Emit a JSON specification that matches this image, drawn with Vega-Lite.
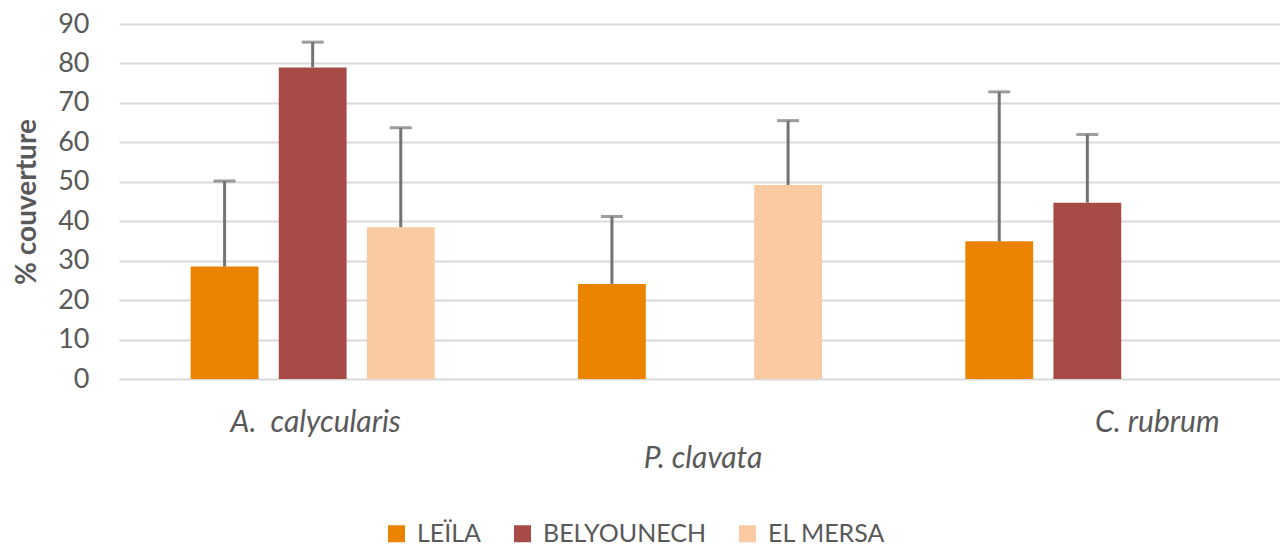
{
  "$schema": "https://vega.github.io/schema/vega-lite/v6.json",
  "width": 1162,
  "height": 355,
  "padding": {"left": 13, "top": 10, "right": 0, "bottom": 0},
  "config": {
    "font": "Lato",
    "view": {"stroke": null},
    "axisY": {
      "titleFontSize": 28,
      "titleFontWeight": "bold",
      "titleColor": "#595959",
      "titlePadding": 16,
      "domain": false,
      "ticks": false,
      "labelFontSize": 27,
      "labelColor": "#595959",
      "labelPadding": 30,
      "labelOverlap": false,
      "gridColor": "#D9D9D9",
      "gridWidth": 2
    }
  },
  "data": {
    "values": [
      {"species": "A. calycularis", "site": "LEÏLA", "value": 28.5, "upper": 50.2},
      {"species": "A. calycularis", "site": "BELYOUNECH", "value": 79.0, "upper": 85.4},
      {"species": "A. calycularis", "site": "EL MERSA", "value": 38.5, "upper": 63.7},
      {"species": "P. clavata", "site": "LEÏLA", "value": 24.1, "upper": 41.2},
      {"species": "P. clavata", "site": "EL MERSA", "value": 49.2, "upper": 65.5},
      {"species": "C. rubrum", "site": "LEÏLA", "value": 34.9, "upper": 72.8},
      {"species": "C. rubrum", "site": "BELYOUNECH", "value": 44.7, "upper": 62.0}
    ]
  },
  "encoding": {
    "x": {
      "field": "species",
      "type": "nominal",
      "sort": ["A. calycularis", "P. clavata", "C. rubrum"],
      "scale": {"paddingInner": 0.37, "paddingOuter": 0.185},
      "axis": {
        "title": null,
        "domain": false,
        "ticks": false,
        "labelAngle": 0,
        "labelFontSize": 30,
        "labelFontStyle": "italic",
        "labelColor": "#595959",
        "labelLimit": 400,
        "labelExpr": "datum.value == 'A. calycularis' ? 'A.\u00a0 calycularis' : datum.value",
        "labelPadding": {"condition": {"test": "datum.value == 'P. clavata'", "value": 64}, "value": 28},
        "labelOffset": {"condition": {"test": "datum.value == 'C. rubrum'", "value": 70}, "value": 3}
      }
    },
    "xOffset": {
      "field": "site",
      "type": "nominal",
      "sort": ["LEÏLA", "BELYOUNECH", "EL MERSA"],
      "scale": {"paddingInner": 0.23, "paddingOuter": 0}
    }
  },
  "layer": [
    {
      "mark": {"type": "bar"},
      "encoding": {
        "y": {
          "field": "value",
          "type": "quantitative",
          "scale": {"domain": [0, 90], "nice": false},
          "axis": {"values": [0, 10, 20, 30, 40, 50, 60, 70, 80, 90], "title": "% couverture"}
        },
        "color": {
          "field": "site",
          "type": "nominal",
          "sort": ["LEÏLA", "BELYOUNECH", "EL MERSA"],
          "scale": {"domain": ["LEÏLA", "BELYOUNECH", "EL MERSA"], "range": ["#E98300", "#A64B45", "#FACBA2"]},
          "legend": {
            "title": null,
            "orient": "none",
            "legendX": 265,
            "legendY": 497,
            "direction": "horizontal",
            "symbolType": "square",
            "symbolSize": 289,
            "symbolStrokeWidth": 0,
            "labelFontSize": 25,
            "labelColor": "#595959",
            "labelLimit": 400,
            "columnPadding": 28,
            "labelOffset": 8
          }
        }
      }
    },
    {
      "transform": [{"filter": "datum.upper != null"}],
      "mark": {"type": "rule", "color": "#737373", "strokeWidth": 3},
      "encoding": {
        "y": {"field": "value", "type": "quantitative", "axis": {"values": [0, 10, 20, 30, 40, 50, 60, 70, 80, 90], "title": "% couverture"}},
        "y2": {"field": "upper"}
      }
    },
    {
      "transform": [{"filter": "datum.upper != null"}],
      "mark": {"type": "tick", "color": "#737373", "thickness": 3, "size": 22, "orient": "horizontal"},
      "encoding": {
        "y": {"field": "upper", "type": "quantitative", "axis": {"values": [0, 10, 20, 30, 40, 50, 60, 70, 80, 90], "title": "% couverture"}}
      }
    }
  ]
}
